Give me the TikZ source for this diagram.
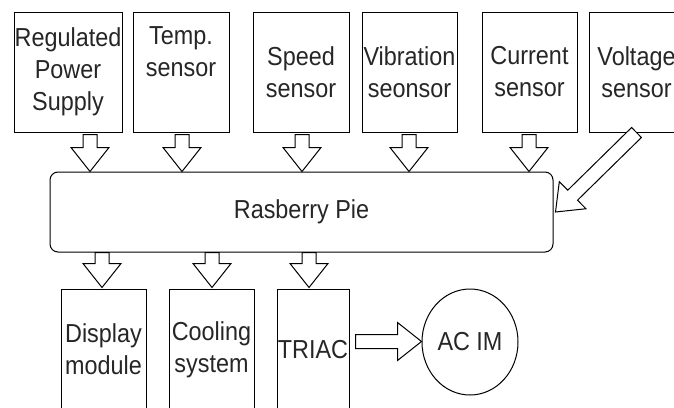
\documentclass[tikz,border=0pt]{standalone}
\usepackage{fontspec}
\setmainfont[FakeStretch=0.9]{Liberation Sans}
\usetikzlibrary{calc,shapes.geometric}

\tikzset{
  box/.style={draw, line width=1pt, align=center, inner sep=0pt, text=black!85,
    minimum height=120pt, font=\fontsize{26}{32}\selectfont},
  blockarrow/.style={draw, line width=1pt, fill=white, line join=miter,
    to path={($(\tikztostart)!7pt!90:(\tikztotarget)$)
      -- ($(\tikztotarget)!24pt!(\tikztostart)!7pt!90:(\tikztotarget)$)
      -- ($(\tikztotarget)!24pt!(\tikztostart)!19pt!90:(\tikztotarget)$)
      -- (\tikztotarget)
      -- ($(\tikztotarget)!24pt!(\tikztostart)!19pt!-90:(\tikztotarget)$)
      -- ($(\tikztotarget)!24pt!(\tikztostart)!7pt!-90:(\tikztotarget)$)
      -- ($(\tikztostart)!7pt!-90:(\tikztotarget)$) -- cycle}},
}

\begin{document}
\begin{tikzpicture}[x=1pt,y=-1pt]
  \clip (0,0) rectangle (674,407);
  \fill[white] (0,0) rectangle (674,407);

  % inputs
  \node[box, minimum width=108pt] (reg) at (68,72) {Regulated\\Power\\Supply};
  \node[box, minimum width=96pt] (temp) at (181,72) {Temp.\\sensor\\\strut};
  \node[box, minimum width=96pt] (speed) at (301,72) {Speed\\sensor};
  \node[box, minimum width=95pt] (vib) at (409.5,72) {Vibration\\seonsor};
  \node[box, minimum width=95pt] (cur) at (529.5,72) {Current\\sensor};
  \node[box, minimum width=95pt] (volt) at (636.5,72) {Voltage\\sensor};

  \node[box, rounded corners=8pt, minimum width=503pt, minimum height=80pt] (pi) at (301.5,212) {Rasberry Pie};

  % outputs
  \node[box, minimum width=85pt, minimum height=121pt] (disp) at (103.5,349.5) {Display\\module};
  \node[box, minimum width=85pt, minimum height=121pt] (cool) at (211.5,349.5) {Cooling\\system};
  \node[box, minimum width=72pt, minimum height=121pt] (triac) at (313,349.5) {TRIAC};
  \node[box, ellipse, minimum width=96pt, minimum height=106pt] (acim) at (470,342) {AC IM};

  \foreach \n/\dx in {reg/22,temp/1,speed/1,vib/-0.5,cur/-0.5}{
    \coordinate (t) at ([xshift=\dx pt,yshift=-2pt]\n.south);
    \coordinate (h) at (t |- pi.north);
    \draw[blockarrow] (t) to (h);
  }
  \coordinate (t) at (volt.south);
  \coordinate (h) at ([xshift=2pt]pi.east);
  \draw[blockarrow] (t) to (h);

  \foreach \n/\dx in {disp/-1.5,cool/0.5,triac/-4}{
    \coordinate (h) at ([xshift=\dx pt,yshift=1pt]\n.north);
    \coordinate (t) at (h |- pi.south);
    \draw[blockarrow] (t) to (h);
  }
  \coordinate (t) at ([shift={(6pt,8pt)}]triac.east);
  \coordinate (h) at (t -| acim.west);
  \draw[blockarrow] (t) to (h);
\end{tikzpicture}
\end{document}
